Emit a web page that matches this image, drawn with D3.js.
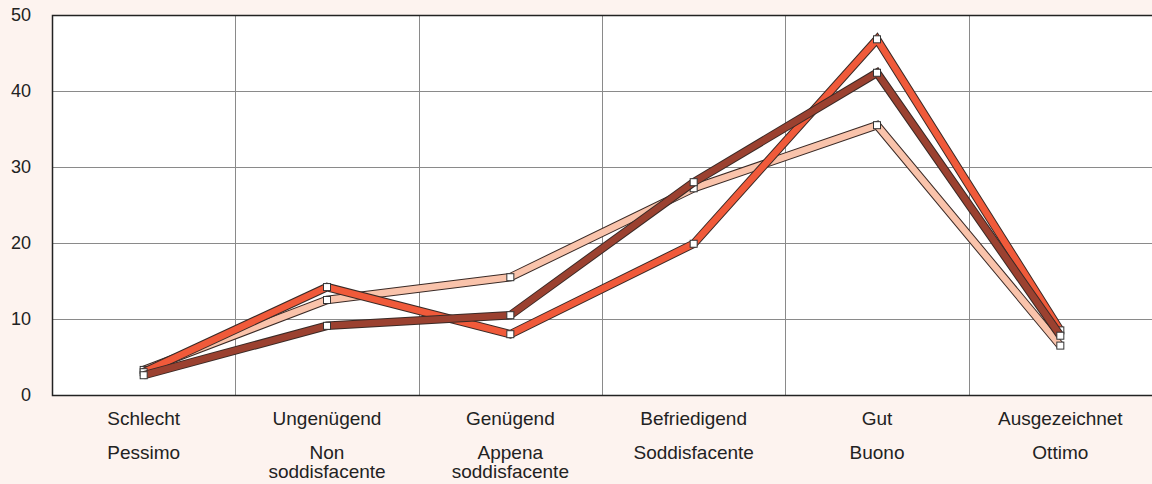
<!DOCTYPE html>
<html>
<head>
<meta charset="utf-8">
<script src="https://cdn.jsdelivr.net/npm/d3@7"></script>
<style>
  html, body { margin: 0; padding: 0; background: #fdf3ef; }
  svg { display: block; }
</style>
</head>
<body>
<div id="chart"></div>
<script>
(function () {
  'use strict';

  // --- Data ---
  var categoriesDe = ['Schlecht', 'Ungenügend', 'Genügend', 'Befriedigend', 'Gut', 'Ausgezeichnet'];
  var categoriesIt = [['Pessimo'], ['Non', 'soddisfacente'], ['Appena', 'soddisfacente'], ['Soddisfacente'], ['Buono'], ['Ottimo']];
  var seriesLight = [3.3, 12.5, 15.5, 27.2, 35.5, 6.5];
  var seriesRed   = [3.0, 14.2, 8.0, 19.9, 46.8, 8.5];
  var seriesDark  = [2.6, 9.1, 10.5, 28.0, 42.4, 7.8];
  var yTicks = [0, 10, 20, 30, 40, 50];

  // drawn bottom to top
  var series = [
    { values: seriesLight, color: '#f9c3ab' },
    { values: seriesRed,   color: '#f05a3a' },
    { values: seriesDark,  color: '#9b4130' }
  ];

  var width = 1152, height = 484;
  var plot = { left: 52, right: 1152, top: 15, bottom: 395 };
  var font = 'Liberation Sans, Arial, Helvetica, sans-serif';

  var svg = d3.select('#chart').append('svg')
    .attr('width', width)
    .attr('height', height);

  var x = d3.scaleBand()
    .domain(categoriesDe)
    .range([plot.left, plot.right])
    .padding(0);

  var y = d3.scaleLinear()
    .domain([0, 50])
    .range([plot.bottom, plot.top]);

  // plot background
  svg.append('rect')
    .attr('x', plot.left)
    .attr('y', plot.top)
    .attr('width', plot.right - plot.left)
    .attr('height', plot.bottom - plot.top)
    .attr('fill', '#ffffff');

  // --- Grid ---
  var grid = svg.append('g').attr('stroke', '#8a8a8a').attr('stroke-width', 1);
  grid.selectAll('line.h')
    .data(yTicks.filter(function (t) { return t > 0 && t < 50; }))
    .join('line')
    .attr('class', 'h')
    .attr('x1', plot.left).attr('x2', plot.right)
    .attr('y1', function (d) { return Math.round(y(d)) + 0.5; })
    .attr('y2', function (d) { return Math.round(y(d)) + 0.5; });

  grid.selectAll('line.v')
    .data(categoriesDe.slice(1))
    .join('line')
    .attr('class', 'v')
    .attr('y1', plot.top).attr('y2', plot.bottom)
    .attr('x1', function (d) { return Math.round(x(d)) + 0.5; })
    .attr('x2', function (d) { return Math.round(x(d)) + 0.5; });

  // --- Frame ---
  svg.append('path')
    .attr('d', 'M' + plot.right + ',' + (plot.top + 0.5) + 'H' + (plot.left + 0.5) +
      'V' + (plot.bottom + 0.5) + 'H' + plot.right)
    .attr('fill', 'none')
    .attr('stroke', '#222')
    .attr('stroke-width', 1.5);

  // --- Y labels ---
  svg.append('g')
    .selectAll('text')
    .data(yTicks)
    .join('text')
    .attr('x', 31)
    .attr('y', function (d) { return y(d); })
    .attr('dy', '0.35em')
    .attr('text-anchor', 'end')
    .attr('font-family', font)
    .attr('font-size', '18px')
    .attr('fill', '#222')
    .text(function (d) { return d; });

  // --- X labels ---
  var xl = svg.append('g')
    .attr('font-family', font)
    .attr('font-size', '19px')
    .attr('fill', '#222')
    .attr('text-anchor', 'middle');

  categoriesDe.forEach(function (c, i) {
    var cx = x(c) + x.bandwidth() / 2;
    xl.append('text')
      .attr('x', cx).attr('y', 418)
      .attr('dy', '0.35em')
      .text(c);
    categoriesIt[i].forEach(function (line, j) {
      xl.append('text')
        .attr('x', cx).attr('y', 452 + j * 19)
        .attr('dy', '0.35em')
        .text(line);
    });
  });

  // --- Lines ---
  var line = d3.line()
    .x(function (d, i) { return x(categoriesDe[i]) + x.bandwidth() / 2; })
    .y(function (d) { return y(d); });

  series.forEach(function (s) {
    var g = svg.append('g');
    g.append('path')
      .attr('d', line(s.values))
      .attr('fill', 'none')
      .attr('stroke', '#3a2a26')
      .attr('stroke-width', 8.5)
      .attr('stroke-linejoin', 'miter');
    g.append('path')
      .attr('d', line(s.values))
      .attr('fill', 'none')
      .attr('stroke', s.color)
      .attr('stroke-width', 6.5)
      .attr('stroke-linejoin', 'miter');
    g.selectAll('rect')
      .data(s.values)
      .join('rect')
      .attr('x', function (d, i) { return x(categoriesDe[i]) + x.bandwidth() / 2 - 3.5; })
      .attr('y', function (d) { return y(d) - 3.5; })
      .attr('width', 7)
      .attr('height', 7)
      .attr('fill', '#fff')
      .attr('stroke', '#333')
      .attr('stroke-width', 1);
  });
})();
</script>
</body>
</html>
